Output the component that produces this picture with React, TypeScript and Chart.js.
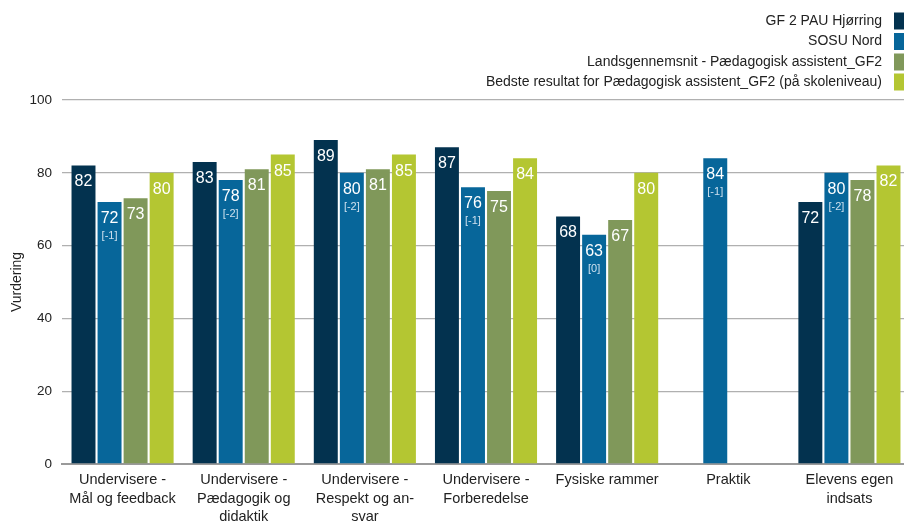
import React, { useEffect, useRef } from "react";
import { Chart, registerables } from "chart.js";

Chart.register(...registerables);

const categories: string[][] = [
  ["Undervisere -", "Mål og feedback"],
  ["Undervisere -", "Pædagogik og", "didaktik"],
  ["Undervisere -", "Respekt og an-", "svar"],
  ["Undervisere -", "Forberedelse"],
  ["Fysiske rammer"],
  ["Praktik"],
  ["Elevens egen", "indsats"],
];

const seriesNames = [
  "GF 2 PAU Hjørring",
  "SOSU Nord",
  "Landsgennemsnit - Pædagogisk assistent_GF2",
  "Bedste resultat for Pædagogisk assistent_GF2 (på skoleniveau)",
];

const hjorring: (number | null)[] = [82, 83, 89, 87, 68, null, 72];
const sosuNord: (number | null)[] = [72, 78, 80, 76, 63, 84, 80];
const landsgennemsnit: (number | null)[] = [73, 81, 81, 75, 67, null, 78];
const bedste: (number | null)[] = [80, 85, 85, 84, 80, null, 82];
const sosuChange: string[] = ["[-1]", "[-2]", "[-2]", "[-1]", "[0]", "[-1]", "[-2]"];

const colors = ["#03324F", "#07669A", "#80985A", "#B4C632"];
const yTicks = [0, 20, 40, 60, 80, 100];

const FONT = "'Liberation Sans', Arial, sans-serif";

const legendPlugin = {
  id: "customLegend",
  afterDraw(chart: any) {
    const ctx = chart.ctx;
    ctx.save();
    ctx.font = `14px ${FONT}`;
    ctx.textAlign = "right";
    ctx.textBaseline = "middle";
    const rows = [21, 41.5, 62, 82];
    seriesNames.forEach((name, i) => {
      ctx.fillStyle = "#222";
      ctx.fillText(name, 882, rows[i]);
      ctx.fillStyle = colors[i];
      ctx.fillRect(894, rows[i] - 8.5, 12, 17);
    });
    ctx.restore();
  },
};

const labelPlugin = {
  id: "barLabels",
  afterDatasetsDraw(chart: any) {
    const ctx = chart.ctx;
    ctx.save();
    ctx.textAlign = "center";
    ctx.textBaseline = "middle";
    chart.data.datasets.forEach((ds: any, di: number) => {
      const meta = chart.getDatasetMeta(di);
      meta.data.forEach((bar: any, i: number) => {
        const v = ds.data[i];
        if (v === null || v === undefined) return;
        ctx.font = `16px ${FONT}`;
        ctx.fillStyle = "#ffffff";
        ctx.fillText(String(v), bar.x, bar.y + 16.5);
        if (di === 1) {
          ctx.font = `11px ${FONT}`;
          ctx.fillStyle = "#cde0ee";
          ctx.fillText(sosuChange[i], bar.x, bar.y + 34);
        }
      });
    });
    ctx.restore();
  },
};

export default function App() {
  const ref = useRef<HTMLCanvasElement>(null);
  useEffect(() => {
    document.documentElement.style.overflow = "hidden";
    document.body.style.overflow = "hidden";
    const data = [hjorring, sosuNord, landsgennemsnit, bedste];
    const chart = new Chart(ref.current!, {
      type: "bar",
      data: {
        labels: categories,
        datasets: data.map((d, i) => ({
          label: seriesNames[i],
          data: d,
          backgroundColor: colors[i],
          categoryPercentage: 0.86,
          barPercentage: 0.92,
        })),
      },
      options: {
        animation: false,
        responsive: false,
        maintainAspectRatio: false,
        layout: { padding: { top: 100, left: 0, right: 0, bottom: 0 } },
        plugins: { legend: { display: false }, tooltip: { enabled: false } },
        scales: {
          x: {
            grid: { display: false, drawTicks: false },
            border: { display: true, color: "#9a9a9a", width: 2 },
            ticks: {
              color: "#222",
              font: { family: FONT, size: 14.5, lineHeight: "18.5px" },
              padding: 7,
              maxRotation: 0,
              autoSkip: false,
            },
            afterFit(scale: any) {
              scale.height = 59;
            },
          },
          y: {
            min: 0,
            max: 100,
            afterBuildTicks(scale: any) {
              scale.ticks = yTicks.map((v) => ({ value: v }));
            },
            grid: { color: "#b0b0b0", lineWidth: 1.3, drawTicks: false },
            border: { display: false },
            ticks: {
              color: "#222",
              font: { family: FONT, size: 13.5 },
              padding: 10,
            },
            title: {
              display: true,
              text: "Vurdering",
              color: "#222",
              font: { family: FONT, size: 14 },
              padding: { top: 9, bottom: 0 },
            },
            afterFit(scale: any) {
              scale.width = 62;
            },
          },
        },
      },
      plugins: [legendPlugin, labelPlugin],
    });
    return () => chart.destroy();
  }, []);
  return (
    <div style={{ position: "fixed", left: 0, top: 0, width: 910, height: 523 }}>
      <canvas ref={ref} width={910} height={523} style={{ width: 910, height: 523 }} />
    </div>
  );
}
